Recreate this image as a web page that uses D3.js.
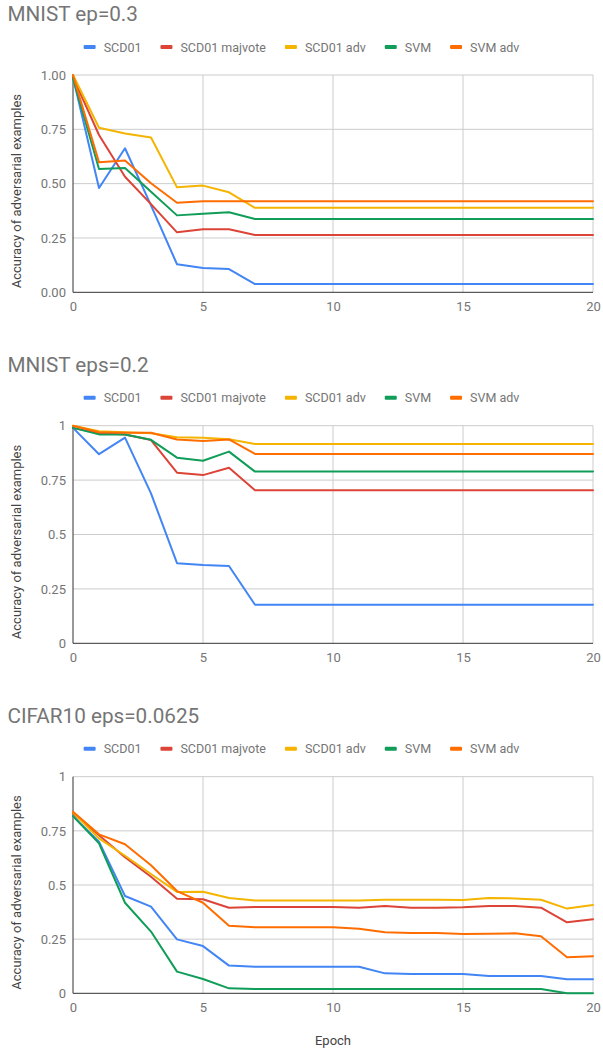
<!DOCTYPE html>
<html>
<head>
<meta charset="utf-8">
<script src="https://cdn.jsdelivr.net/npm/d3@7"></script>
<style>
  html, body { margin: 0; padding: 0; background: #fff; }
  svg { display: block; font-family: Roboto, "Noto Sans", sans-serif; }
</style>
</head>
<body>
<svg id="chart" width="603" height="1048"></svg>
<script>
// ---- Data ----
const epochs = [0,1,2,3,4,5,6,7,8,9,10,11,12,13,14,15,16,17,18,19,20];
const seriesNames = ["SCD01", "SCD01 majvote", "SCD01 adv", "SVM", "SVM adv"];
const seriesColors = ["#4285f4", "#db4437", "#f4b400", "#0f9d58", "#ff6d00"];
const xTicks = [0, 5, 10, 15, 20];
const yTicks = [0, 0.25, 0.5, 0.75, 1];
const yTickLabelsA = ["0.00", "0.25", "0.50", "0.75", "1.00"];
const yTickLabelsB = ["0", "0.25", "0.5", "0.75", "1"];
const titles = ["MNIST ep=0.3", "MNIST eps=0.2", "CIFAR10 eps=0.0625"];

// MNIST ep=0.3
const m03_scd01   = [0.99,0.48,0.663,0.40,0.129,0.112,0.107,0.038,0.038,0.038,0.038,0.038,0.038,0.038,0.038,0.038,0.038,0.038,0.038,0.038,0.038];
const m03_majvote = [0.99,0.724,0.532,0.406,0.276,0.290,0.290,0.264,0.264,0.264,0.264,0.264,0.264,0.264,0.264,0.264,0.264,0.264,0.264,0.264,0.264];
const m03_adv     = [1.0,0.757,0.731,0.712,0.483,0.491,0.460,0.389,0.389,0.389,0.389,0.389,0.389,0.389,0.389,0.389,0.389,0.389,0.389,0.389,0.389];
const m03_svm     = [0.985,0.567,0.572,0.463,0.354,0.362,0.368,0.337,0.337,0.337,0.337,0.337,0.337,0.337,0.337,0.337,0.337,0.337,0.337,0.337,0.337];
const m03_svmadv  = [1.0,0.598,0.607,0.502,0.412,0.419,0.419,0.419,0.419,0.419,0.419,0.419,0.419,0.419,0.419,0.419,0.419,0.419,0.419,0.419,0.419];

// MNIST eps=0.2
const m02_scd01   = [0.99,0.869,0.945,0.689,0.368,0.360,0.355,0.177,0.177,0.177,0.177,0.177,0.177,0.177,0.177,0.177,0.177,0.177,0.177,0.177,0.177];
const m02_majvote = [0.99,0.965,0.96,0.934,0.784,0.773,0.807,0.703,0.703,0.703,0.703,0.703,0.703,0.703,0.703,0.703,0.703,0.703,0.703,0.703,0.703];
const m02_adv     = [1.0,0.975,0.97,0.965,0.947,0.945,0.938,0.916,0.916,0.916,0.916,0.916,0.916,0.916,0.916,0.916,0.916,0.916,0.916,0.916,0.916];
const m02_svm     = [0.99,0.96,0.96,0.935,0.853,0.839,0.881,0.789,0.789,0.789,0.789,0.789,0.789,0.789,0.789,0.789,0.789,0.789,0.789,0.789,0.789];
const m02_svmadv  = [1.0,0.97,0.968,0.968,0.937,0.930,0.937,0.870,0.870,0.870,0.870,0.870,0.870,0.870,0.870,0.870,0.870,0.870,0.870,0.870,0.870];

// CIFAR10 eps=0.0625
const c10_scd01   = [0.818,0.70,0.449,0.40,0.249,0.218,0.128,0.123,0.123,0.123,0.123,0.123,0.092,0.089,0.089,0.089,0.08,0.08,0.08,0.065,0.065];
const c10_majvote = [0.83,0.73,0.628,0.538,0.437,0.434,0.395,0.398,0.398,0.398,0.398,0.395,0.403,0.395,0.395,0.397,0.403,0.403,0.395,0.328,0.342];
const c10_adv     = [0.834,0.715,0.635,0.551,0.468,0.469,0.44,0.428,0.428,0.428,0.428,0.428,0.432,0.432,0.432,0.431,0.44,0.438,0.432,0.391,0.408];
const c10_svm     = [0.818,0.692,0.418,0.285,0.10,0.066,0.023,0.02,0.02,0.02,0.02,0.02,0.02,0.02,0.02,0.02,0.02,0.02,0.02,0.0,0.0];
const c10_svmadv  = [0.838,0.734,0.688,0.591,0.472,0.418,0.312,0.305,0.305,0.305,0.305,0.298,0.282,0.278,0.278,0.274,0.275,0.277,0.263,0.166,0.171];

const chartSeries = [
  [m03_scd01, m03_majvote, m03_adv, m03_svm, m03_svmadv],
  [m02_scd01, m02_majvote, m02_adv, m02_svm, m02_svmadv],
  [c10_scd01, c10_majvote, c10_adv, c10_svm, c10_svmadv]
];
const chartYLabels = [yTickLabelsA, yTickLabelsB, yTickLabelsB];

// ---- Layout ----
const plotLeft = 73, plotRight = 593;
const plotTops = [75, 425.7, 776.7];
const plotBottoms = [292.3, 643.3, 993.3];

const svg = d3.select("#chart");
const x = d3.scaleLinear().domain([0, 20]).range([plotLeft, plotRight]);

chartSeries.forEach((series, ci) => {
  const top = plotTops[ci], bottom = plotBottoms[ci];
  const y = d3.scaleLinear().domain([0, 1]).range([bottom, top]);
  const g = svg.append("g");

  // Title
  g.append("text")
    .attr("x", 7.5).attr("y", top - 54)
    .attr("font-size", 20.7).attr("fill", "#757575")
    .text(titles[ci]);

  // Legend
  const leg = g.append("g");
  let cx = 0;
  seriesNames.forEach((name, i) => {
    const item = leg.append("g").attr("transform", `translate(${cx},0)`);
    item.append("rect").attr("x", 0).attr("y", -2).attr("width", 12).attr("height", 4)
      .attr("rx", 1).attr("fill", seriesColors[i]);
    const t = item.append("text").attr("x", 20).attr("y", 4.5)
      .attr("font-size", 12.5).attr("fill", "#757575").text(name);
    const w = t.node().getComputedTextLength();
    cx += 20 + w + 19;
  });
  const legW = cx - 19;
  leg.attr("transform", `translate(${301.5 - legW / 2},${top - 28})`);

  // Gridlines
  const grid = g.append("g");
  grid.selectAll("line.h").data(yTicks.filter(d => d !== 0)).join("line")
    .attr("x1", plotLeft).attr("x2", plotRight)
    .attr("y1", d => y(d)).attr("y2", d => y(d))
    .attr("stroke", "#cccccc").attr("stroke-width", 1);
  grid.selectAll("line.v").data(xTicks.filter(d => d !== 0)).join("line")
    .attr("x1", d => x(d)).attr("x2", d => x(d))
    .attr("y1", top).attr("y2", bottom)
    .attr("stroke", "#cccccc").attr("stroke-width", 1);

  // Y axis labels
  const yAxis = d3.axisLeft(y).tickValues(yTicks)
    .tickFormat((d, i) => chartYLabels[ci][i]).tickSize(0).tickPadding(7);
  const ya = g.append("g").attr("transform", `translate(${plotLeft},0)`).call(yAxis);
  ya.select(".domain").remove();
  ya.selectAll("text").attr("font-size", 13).attr("fill", "#757575")
    .attr("font-family", "Roboto, 'Noto Sans', sans-serif");

  // X axis labels
  const xAxis = d3.axisBottom(x).tickValues(xTicks).tickSize(0).tickPadding(9);
  const xa = g.append("g").attr("transform", `translate(0,${bottom})`).call(xAxis);
  xa.select(".domain").remove();
  xa.selectAll("text").attr("font-size", 13).attr("fill", "#757575")
    .attr("font-family", "Roboto, 'Noto Sans', sans-serif");

  // Baselines
  g.append("line").attr("x1", plotLeft).attr("x2", plotRight)
    .attr("y1", bottom).attr("y2", bottom).attr("stroke", "#333").attr("stroke-width", 1);
  g.append("line").attr("x1", plotLeft).attr("x2", plotLeft)
    .attr("y1", top).attr("y2", bottom).attr("stroke", "#333").attr("stroke-width", 1);

  // Y axis title
  const ymid = (top + bottom) / 2 + 7.5;
  g.append("text")
    .attr("transform", `translate(21,${ymid}) rotate(-90)`)
    .attr("text-anchor", "middle").attr("font-size", 13).attr("fill", "#444")
    .text("Accuracy of adversarial examples");

  // Lines
  const line = d3.line().x((d, i) => x(epochs[i])).y(d => y(d));
  series.forEach((vals, i) => {
    g.append("path").datum(vals)
      .attr("d", line).attr("fill", "none")
      .attr("stroke", seriesColors[i]).attr("stroke-width", 2)
      .attr("stroke-linejoin", "round").attr("stroke-linecap", "round");
  });
});

// X axis title (bottom only)
svg.append("text").attr("x", (plotLeft + plotRight) / 2).attr("y", 1045)
  .attr("text-anchor", "middle").attr("font-size", 13).attr("fill", "#444")
  .text("Epoch");
</script>
</body>
</html>
